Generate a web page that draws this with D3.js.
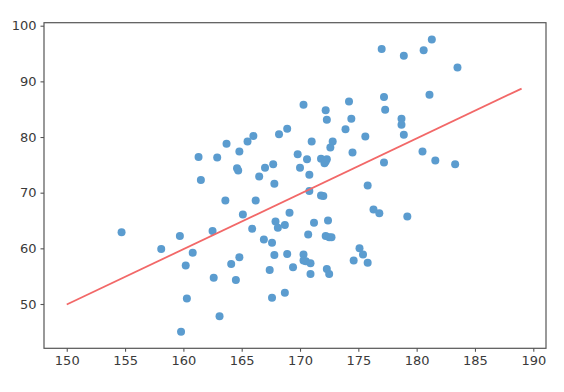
<!DOCTYPE html>
<html>
<head>
<meta charset="utf-8">
<script src="https://cdn.jsdelivr.net/npm/d3@7"></script>
<style>
  body { margin: 0; background: #fff; }
  .tick text { font-family: "DejaVu Sans", sans-serif; font-size: 13px; fill: #3a3a3a; }
</style>
</head>
<body>
<script>
  // heights (x) and weights (y)
  var heights = [154.7, 158.1, 159.7, 160.2, 160.8, 160.3, 159.8, 161.3, 161.5, 162.5,
    162.6, 162.9, 163.1, 163.7, 163.6, 164.1, 164.5, 164.8, 164.6, 164.7,
    164.8, 165.1, 165.5, 166.0, 165.9, 166.2, 166.5, 167.0, 166.9, 167.4,
    167.6, 167.6, 167.7, 167.8, 167.9, 168.1, 167.8, 168.2, 168.7, 168.7,
    168.9, 168.9, 169.1, 169.4, 169.8, 170.0, 170.3, 170.3, 170.3, 170.5,
    170.7, 170.6, 170.8, 170.8, 170.9, 170.9, 171.0, 171.2, 171.8, 172.0,
    171.8, 172.1, 172.3, 172.2, 172.2, 172.3, 172.4, 172.2, 172.5, 172.7,
    172.3, 172.5, 172.6, 172.8, 173.9, 174.2, 174.4, 174.5, 174.6, 175.1,
    175.4, 175.8, 175.6, 175.8, 176.3, 176.8, 177.0, 177.2, 177.3, 177.2,
    178.7, 178.7, 178.9, 178.9, 179.2, 180.5, 180.6, 181.3, 181.1, 181.6,
    183.5, 183.3];
  var weights = [62.9, 59.9, 62.2, 56.9, 59.2, 51.0, 45.0, 76.4, 72.3, 63.1,
    54.7, 76.3, 47.8, 78.8, 68.6, 57.2, 54.3, 58.4, 74.4, 74.0,
    77.4, 66.1, 79.2, 80.2, 63.5, 68.6, 72.9, 74.5, 61.6, 56.1,
    61.0, 51.1, 75.1, 71.6, 64.8, 63.7, 58.8, 80.5, 64.2, 52.0,
    81.5, 59.0, 66.4, 56.6, 76.9, 74.5, 85.8, 58.9, 57.8, 57.7,
    62.5, 76.0, 70.3, 73.2, 57.3, 55.4, 79.2, 64.6, 69.5, 69.4,
    76.1, 75.3, 76.0, 75.6, 84.8, 83.1, 65.0, 62.2, 62.0, 62.0,
    56.3, 55.4, 78.1, 79.2, 81.4, 86.4, 83.3, 77.2, 57.8, 60.0,
    58.9, 57.4, 80.1, 71.3, 67.0, 66.3, 95.8, 87.2, 84.9, 75.4,
    83.3, 82.2, 80.4, 94.6, 65.7, 77.4, 95.6, 97.5, 87.6, 75.8,
    92.5, 75.1];

  // fitted line
  var lineX = [150, 189];
  var lineY = [49.9, 88.7];

  var xTicks = [150, 155, 160, 165, 170, 175, 180, 185, 190];
  var yTicks = [50, 60, 70, 80, 90, 100];

  (function(d3) {
    "use strict";

    var width = 564, height = 392;
    var plot = { left: 44, right: 546, top: 22.7, bottom: 348.3 };

    var svg = d3.select("body").append("svg")
      .attr("width", width)
      .attr("height", height);

    var x = d3.scaleLinear().domain([148.05, 191.09]).range([plot.left, plot.right]);
    var y = d3.scaleLinear().domain([42.04, 100.54]).range([plot.bottom, plot.top]);

    // points
    svg.append("g")
      .selectAll("circle")
      .data(heights)
      .join("circle")
      .attr("cx", function(d) { return x(d); })
      .attr("cy", function(d, i) { return y(weights[i]); })
      .attr("r", 4)
      .attr("fill", "#5b9ccf");

    // regression line
    svg.append("path")
      .datum(lineX)
      .attr("fill", "none")
      .attr("stroke", "#f26868")
      .attr("stroke-width", 1.8)
      .attr("d", d3.line()
        .x(function(d) { return x(d); })
        .y(function(d, i) { return y(lineY[i]); }));

    // frame
    svg.append("rect")
      .attr("x", plot.left)
      .attr("y", plot.top)
      .attr("width", plot.right - plot.left)
      .attr("height", plot.bottom - plot.top)
      .attr("fill", "none")
      .attr("stroke", "#555")
      .attr("stroke-width", 1.2);

    var xAxis = svg.append("g")
      .attr("transform", "translate(0," + plot.bottom + ")")
      .call(d3.axisBottom(x).tickValues(xTicks).tickSize(3.5).tickPadding(4).tickFormat(d3.format("d")));

    var yAxis = svg.append("g")
      .attr("transform", "translate(" + plot.left + ",0)")
      .call(d3.axisLeft(y).tickValues(yTicks).tickSize(3.5).tickPadding(4).tickFormat(d3.format("d")));

    [xAxis, yAxis].forEach(function(a) {
      a.select(".domain").remove();
      a.selectAll(".tick line").attr("stroke", "#555").attr("stroke-width", 1.1);
    });
  })(d3);
</script>
</body>
</html>
